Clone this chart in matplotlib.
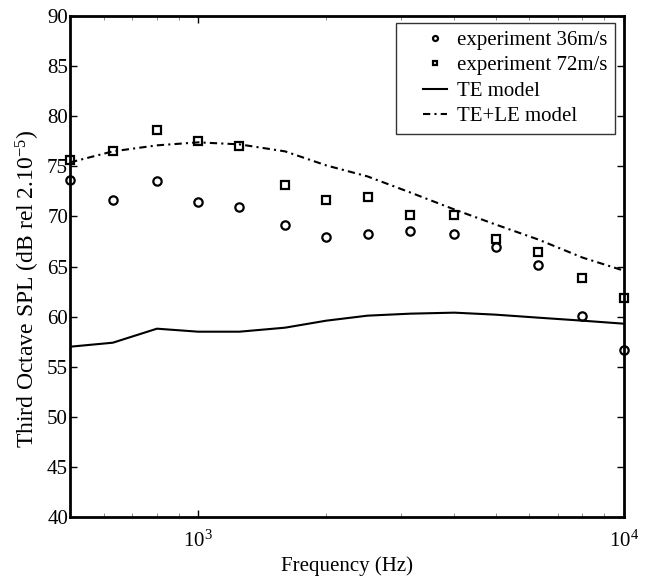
import matplotlib
matplotlib.use("Agg")
import matplotlib.pyplot as plt
from matplotlib.ticker import LogLocator, NullFormatter
from matplotlib.lines import Line2D
from matplotlib.legend_handler import HandlerLine2D

plt.rcParams['font.family'] = ['Liberation Serif', 'DejaVu Serif']
plt.rcParams['mathtext.fontset'] = 'custom'
plt.rcParams['mathtext.rm'] = 'Liberation Serif'
plt.rcParams['mathtext.it'] = 'Liberation Serif:italic'

freq = [500, 630, 800, 1000, 1250, 1600, 2000, 2500, 3150, 4000, 5000, 6300, 8000, 10000]
exp36 = [73.6, 71.6, 73.5, 71.4, 70.9, 69.1, 68.0, 68.3, 68.6, 68.3, 67.0, 65.2, 60.1, 56.7]
exp72 = [75.6, 76.5, 78.6, 77.5, 77.0, 73.1, 71.6, 71.9, 70.1, 70.1, 67.8, 66.5, 63.9, 61.9]
te_model = [57.0, 57.4, 58.8, 58.5, 58.5, 58.9, 59.6, 60.1, 60.3, 60.4, 60.2, 59.9, 59.6, 59.3]
tele_model = [75.4, 76.5, 77.1, 77.4, 77.2, 76.5, 75.1, 74.0, 72.4, 70.7, 69.2, 67.7, 65.9, 64.6]

fig = plt.figure(figsize=(6.49, 5.76), dpi=100)
ax = fig.add_axes([0.108, 0.1024, 0.853, 0.8696])

ax.plot(freq, exp36, linestyle='none', marker='o', markersize=6, markerfacecolor='none',
        markeredgecolor='black', markeredgewidth=1.6, label='experiment 36m/s', clip_on=False, zorder=3)
ax.plot(freq, exp72, linestyle='none', marker='s', markersize=5.5, markerfacecolor='none',
        markeredgecolor='black', markeredgewidth=1.6, label='experiment 72m/s', clip_on=False, zorder=3)
ax.plot(freq, te_model, color='black', linewidth=1.5, label='TE model')
ax.plot(freq, tele_model, color='black', linewidth=1.5, linestyle=(0, (3.5, 2, 1, 2)), label='TE+LE model')

ax.set_xscale('log')
ax.set_xlim(500, 10000)
ax.set_ylim(40, 90)
ax.set_yticks(range(40, 91, 5))
ax.xaxis.set_minor_locator(LogLocator(base=10, subs=range(2, 10), numticks=20))
ax.xaxis.set_minor_formatter(NullFormatter())

ax.tick_params(which='both', direction='in', top=True, right=True, labelsize=15, width=1.0)
ax.tick_params(which='major', length=5)
ax.tick_params(which='minor', length=3, width=0.6, color='#777777')
ax.tick_params(axis='y', pad=1.5)
ax.tick_params(axis='x', which='major', pad=10)
for s in ax.spines.values():
    s.set_linewidth(2.0)

ax.set_xlabel('Frequency (Hz)', fontsize=15, labelpad=3)
ax.set_ylabel('Third Octave SPL (dB rel 2.10$^{-5}$)', fontsize=17, va='center')
ax.yaxis.set_label_coords(-0.077, 0.455)

leg = ax.legend(loc='upper right', fontsize=15, frameon=True, fancybox=False, edgecolor='black',
                handlelength=2.1, borderpad=0.35, borderaxespad=0.0, labelspacing=0.28,
                handletextpad=0.5, markerscale=0.6, bbox_to_anchor=(0.9838, 0.986),
                handler_map={Line2D: HandlerLine2D(xpad=0.96)})
leg.get_frame().set_linewidth(1.0)

fig.savefig('out.png', dpi=100)
